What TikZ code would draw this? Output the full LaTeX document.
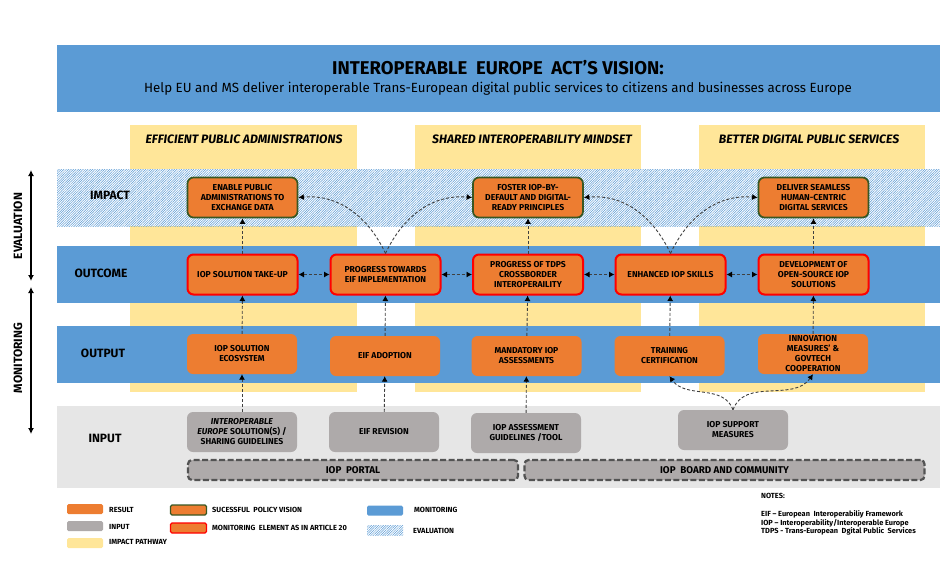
\documentclass[tikz,border=0pt]{standalone}
\usepackage{fontspec}
\setmainfont{Fira Sans}
\usetikzlibrary{arrows.meta,patterns.meta}
\definecolor{bandblue}{HTML}{5B9BD5}
\definecolor{boxorange}{HTML}{ED7D31}
\definecolor{boxgray}{HTML}{AEAAAA}
\definecolor{bandgray}{HTML}{E6E6E6}
\definecolor{pathyellow}{HTML}{FFE699}
\definecolor{visiongreen}{HTML}{385723}
\definecolor{dashgray}{HTML}{404040}
\tikzset{
  basebox/.style={rounded corners=6pt, minimum width=110pt, minimum height=40pt, inner sep=0pt, align=center, font=\fontsize{8.6}{10}\selectfont\bfseries},
  resultbox/.style={basebox, fill=boxorange},
  inputbox/.style={basebox, fill=boxgray},
  visionbox/.style={resultbox, draw=visiongreen, line width=1.7pt},
  articlebox/.style={resultbox, draw=red, line width=2pt},
  sharedbox/.style={rounded corners=4pt, fill=boxgray, draw=dashgray!90, line width=2.2pt, dash pattern=on 6pt off 2.5pt, minimum height=20pt, inner sep=0pt, font=\fontsize{9.8}{10}\selectfont\bfseries},
  bandlabel/.style={font=\fontsize{12}{13}\selectfont\bfseries},
  headlabel/.style={font=\fontsize{12.2}{14}\selectfont\bfseries\itshape},
  sidelabel/.style={rotate=90, font=\fontsize{12}{14}\selectfont\bfseries},
  keyswatch/.style={minimum width=36pt, minimum height=10pt, inner sep=0pt, rounded corners=1.5pt},
  keylabel/.style={anchor=west, inner sep=0pt, font=\fontsize{7.4}{8}\selectfont\bfseries},
  notelabel/.style={anchor=west, inner sep=0pt, font=\fontsize{7.4}{8}\selectfont\bfseries},
  hatched/.style={pattern={Lines[angle=45,distance=1.7pt,line width=.5pt]}, pattern color=bandblue},
  flow/.style={dash pattern=on 3pt off 2pt, line width=.9pt, draw=dashgray, -{Latex[length=5.5pt,width=6pt,black]}},
  bothflow/.style={flow, {Latex[length=5.5pt,width=6pt,black]}-{Latex[length=5.5pt,width=6pt,black]}},
  sidearrow/.style={line width=1.5pt, {Latex[length=6pt,width=6pt]}-{Latex[length=6pt,width=6pt]}}
}
\begin{document}
\begin{tikzpicture}[x=1pt,y=-1pt]
\useasboundingbox (0,0) rectangle (940,565);

\fill[pathyellow] (130,125) rectangle (357,392);
\fill[pathyellow] (415,125) rectangle (641,392);
\fill[pathyellow] (699,125) rectangle (925,392);

\fill[bandblue] (57,45) rectangle (940,112);
\fill[white] (57,169) rectangle (940,226);
\fill[hatched] (57,169) rectangle (940,226);
\fill[bandblue] (57,246) rectangle (940,303);
\fill[bandblue] (57,326) rectangle (940,383);
\fill[bandgray] (57,406) rectangle (940,488);

\node[font=\fontsize{18.5}{20}\selectfont\bfseries] (TTL) at (498,68) {INTEROPERABLE\ \ EUROPE\ \ ACT'S VISION:};
\node[font=\fontsize{13.3}{16}\selectfont] (SUB) at (498,89) {Help EU and MS deliver interoperable Trans-European digital public services to citizens and businesses across Europe};

\node[headlabel] (HDA) at (244,139) {EFFICIENT PUBLIC ADMINISTRATIONS};
\node[headlabel] (HDB) at (532,139) {SHARED INTEROPERABILITY MINDSET};
\node[headlabel] (HDC) at (809,139) {BETTER DIGITAL PUBLIC SERVICES};

\node[bandlabel] (LIM) at (110,195) {IMPACT};
\node[bandlabel] (LOC) at (101,273) {OUTCOME};
\node[bandlabel] (LOP) at (103,353) {OUTPUT};
\node[bandlabel] (LIN) at (105,438) {INPUT};

\node[sidelabel] (EVL) at (18,226) {EVALUATION};
\node[sidelabel] (MON) at (18,358) {MONITORING};
\coordinate (EVT) at (31,170);
\coordinate (EVB) at (31,281);
\coordinate (MOT) at (31,287);
\coordinate (MOB) at (31,434);
\draw[sidearrow] (EVT) -- (EVB);
\draw[sidearrow] (MOT) -- (MOB);

\node[visionbox] (IMA) at (242.5,197.5) {ENABLE PUBLIC\\ADMINISTRATIONS TO\\EXCHANGE DATA};
\node[visionbox] (IMB) at (528,197.5) {FOSTER IOP-BY-\\DEFAULT AND DIGITAL-\\READY PRINCIPLES};
\node[visionbox] (IMC) at (813.5,197.5) {DELIVER SEAMLESS\\HUMAN-CENTRIC\\DIGITAL SERVICES};

\node[articlebox] (OCA) at (242.5,274.5) {IOP SOLUTION TAKE-UP};
\node[articlebox] (OCB) at (385.5,274.5) {PROGRESS TOWARDS\\EIF IMPLEMENTATION};
\node[articlebox] (OCC) at (528,274.5) {PROGRESS OF TDPS\\CROSSBORDER\\INTEROPERAILITY};
\node[articlebox] (OCD) at (670.5,274.5) {ENHANCED IOP SKILLS};
\node[articlebox] (OCE) at (813.5,274.5) {DEVELOPMENT OF\\OPEN-SOURCE IOP\\SOLUTIONS};

\node[resultbox] (OPA) at (242,354) {IOP SOLUTION\\ECOSYSTEM};
\node[resultbox] (OPB) at (385,356) {EIF ADOPTION};
\node[resultbox] (OPC) at (526.5,356) {MANDATORY IOP\\ASSESSMENTS};
\node[resultbox] (OPD) at (669.5,356) {TRAINING\\CERTIFICATION};
\node[resultbox] (OPE) at (813,354) {INNOVATION\\MEASURES' \&\\GOVTECH\\COOPERATION};

\node[inputbox] (INA) at (242,432) {\textit{INTEROPERABLE}\\\textit{EUROPE} SOLUTION(S) /\\SHARING GUIDELINES};
\node[inputbox] (INB) at (384,432) {EIF REVISION};
\node[inputbox] (INC) at (526,433) {IOP ASSESSMENT\\GUIDELINES /TOOL};
\node[inputbox] (IND) at (733,430) {IOP SUPPORT\\MEASURES};

\node[sharedbox, minimum width=330pt] (PRT) at (353,470) {IOP\ \ PORTAL};
\node[sharedbox, minimum width=400pt] (BRD) at (724.5,470) {IOP\ \ BOARD AND COMMUNITY};

\draw[flow] (OCA) -- (IMA);
\draw[flow] (OCC) -- (IMB);
\draw[flow] (OCE) -- (IMC);
\draw[flow] (OCB.north) to[out=115,in=5] (IMA.east);
\draw[flow] (OCB.north) to[out=65,in=175] (IMB.west);
\draw[flow] (OCD.north) to[out=115,in=5] (IMB.east);
\draw[flow] (OCD.north) to[out=65,in=175] (IMC.west);

\draw[bothflow] (OCA) -- (OCB);
\draw[bothflow] (OCB) -- (OCC);
\draw[bothflow] (OCC) -- (OCD);
\draw[bothflow] (OCD) -- (OCE);

\draw[flow] (OPA) -- (OCA);
\draw[flow] (OPB) -- (OCB);
\draw[flow] (OPC) -- (OCC);
\draw[flow] (OPD) -- (OCD);
\draw[flow] (OPE) -- (OCE);

\draw[flow] (INA) -- (OPA);
\draw[flow] (INB) -- (OPB);
\draw[flow] (INC) -- (OPC);
\draw[flow] (IND.north) to[out=110,in=-55] (OPD.south);
\draw[flow] (IND.north) to[out=70,in=-125] (OPE.south);

\node[keyswatch, fill=boxorange] (KRE) at (85,509) {};
\node[keyswatch, fill=boxgray] (KIN) at (85,526) {};
\node[keyswatch, fill=pathyellow] (KPA) at (85,543) {};
\node[keyswatch, fill=boxorange, draw=visiongreen, line width=1.2pt] (KVI) at (188.5,510) {};
\node[keyswatch, fill=boxorange, draw=red, line width=1.2pt] (KAR) at (188.5,528) {};
\node[keyswatch, fill=bandblue] (KMO) at (385,510.5) {};
\node[keyswatch, hatched, rounded corners=0pt] (KEV) at (385,530) {};

\node[keylabel] (TRE) at (109,510) {RESULT};
\node[keylabel] (TIN) at (109,526.5) {INPUT};
\node[keylabel] (TPA) at (109,541.5) {IMPACT PATHWAY};
\node[keylabel] (TVI) at (212,509.5) {SUCESSFUL\ \ POLICY VISION};
\node[keylabel] (TAR) at (212,527.5) {MONITORING\ \ ELEMENT AS IN ARTICLE 20};
\node[keylabel] (TMO) at (414,510) {MONITORING};
\node[keylabel] (TEV) at (413,531) {EVALUATION};

\node[notelabel] (NTS) at (761,496) {NOTES:};
\node[notelabel] (NTA) at (761,514) {EIF -- European\ \ Interoperabiliy Framework};
\node[notelabel] (NTB) at (761,523) {IOP -- Interoperability/Interoperable Europe};
\node[notelabel] (NTC) at (761,531.5) {TDPS - Trans-European\ \ Dgital Public\ \ Services};

\end{tikzpicture}
\end{document}
